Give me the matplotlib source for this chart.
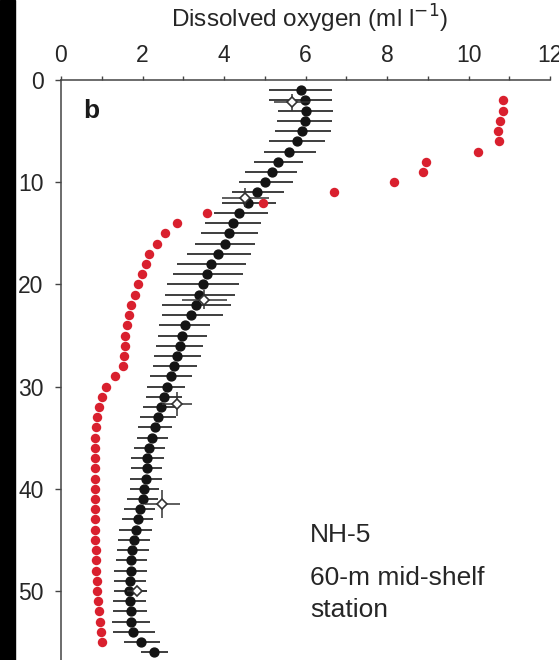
import numpy as np
import matplotlib
matplotlib.use("Agg")
import matplotlib.pyplot as plt
from matplotlib.patches import Rectangle

plt.rcParams["font.family"] = ["Liberation Sans", "DejaVu Sans"]

# black profile: mean with range bars
black_depth = list(range(1, 57))
black_x = [5.88, 5.99, 6.01, 5.99, 5.91, 5.80, 5.60, 5.33, 5.17, 5.01,
           4.80, 4.60, 4.38, 4.22, 4.12, 4.03, 3.86, 3.69, 3.58, 3.49,
           3.39, 3.31, 3.18, 3.05, 2.96, 2.91, 2.85, 2.78, 2.70, 2.59,
           2.53, 2.45, 2.39, 2.31, 2.24, 2.16, 2.12, 2.11, 2.08, 2.04,
           2.00, 1.94, 1.88, 1.83, 1.78, 1.75, 1.73, 1.71, 1.69, 1.68,
           1.69, 1.71, 1.71, 1.77, 1.96, 2.28]
black_lo = [5.11, 5.11, 5.33, 5.31, 5.25, 5.11, 4.98, 4.74, 4.52, 4.38,
            4.19, 3.94, 3.75, 3.53, 3.43, 3.29, 3.08, 2.85, 2.74, 2.59,
            2.54, 2.47, 2.47, 2.41, 2.39, 2.33, 2.29, 2.25, 2.18, 2.12,
            2.09, 2.02, 1.95, 1.90, 1.86, 1.79, 1.73, 1.73, 1.69, 1.69,
            1.63, 1.55, 1.49, 1.43, 1.39, 1.37, 1.36, 1.31, 1.31, 1.31,
            1.28, 1.28, 1.24, 1.28, 1.55, 1.96]
black_hi = [6.66, 6.66, 6.68, 6.66, 6.62, 6.48, 6.25, 5.95, 5.80, 5.69,
            5.47, 5.28, 5.07, 4.90, 4.84, 4.76, 4.66, 4.54, 4.47, 4.38,
            4.27, 4.17, 3.97, 3.66, 3.58, 3.49, 3.43, 3.33, 3.21, 3.04,
            2.96, 2.82, 2.82, 2.72, 2.63, 2.55, 2.53, 2.49, 2.47, 2.41,
            2.39, 2.31, 2.25, 2.23, 2.18, 2.17, 2.12, 2.12, 2.09, 2.12,
            2.09, 2.12, 2.18, 2.31, 2.43, 2.62]

# red profile
red_depth = list(range(2, 56))
red_x = [10.84, 10.84, 10.77, 10.72, 10.75, 10.24, 8.95, 8.88, 8.18, 6.70,
         4.96, 3.59, 2.84, 2.56, 2.36, 2.17, 2.08, 1.99, 1.90, 1.82,
         1.72, 1.66, 1.61, 1.58, 1.57, 1.55, 1.51, 1.33, 1.10, 1.00,
         0.93, 0.88, 0.86, 0.84, 0.84, 0.84, 0.84, 0.84, 0.84, 0.84,
         0.84, 0.84, 0.84, 0.84, 0.85, 0.86, 0.87, 0.88, 0.89, 0.91,
         0.93, 0.96, 0.97, 1.00]

# open diamonds with x and depth error
dia_depth = [2.2, 11.5, 21.5, 31.7, 41.5, 50.0]
dia_x = [5.66, 4.52, 3.52, 2.85, 2.49, 1.86]
dia_xerr = [0.44, 0.58, 0.55, 0.37, 0.44, 0.25]
dia_yerr = [0.87, 0.9, 0.95, 1.15, 1.4, 0.3]

W, H = 559, 660
fig = plt.figure(figsize=(W / 100, H / 100), dpi=100)
fig.patches.append(Rectangle((0, 0), 15 / W, 1, transform=fig.transFigure,
                             color="black", zorder=0))

ax = fig.add_axes([61 / W, 0, (550 - 61) / W, (660 - 80) / H])
txt = "#262626"

bx = np.array(black_x)
xerr = [bx - np.array(black_lo), np.array(black_hi) - bx]
ax.errorbar(black_x, black_depth, xerr=xerr, fmt="o", color="#141414",
            ms=6.4, ecolor="#1e1e1e", elinewidth=1.2, capsize=0, zorder=2)
ax.errorbar(dia_x, dia_depth, xerr=dia_xerr, yerr=dia_yerr, fmt="D",
            ms=5.2, mfc="white", mec="#333333", mew=1.2, ecolor="#333333",
            elinewidth=1.1, capsize=0, zorder=3)
ax.plot(red_x, red_depth, "o", color="#d9202e", ms=6.8, mec="none", zorder=4)

ax.set_xlim(0, 12)
ax.set_ylim(56.75, 0)
ax.xaxis.tick_top()
ax.set_xticks(range(0, 13, 2))
ax.set_xticks(range(1, 13, 2), minor=True)
ax.set_yticks(range(0, 51, 10))
for s in ["right", "bottom"]:
    ax.spines[s].set_visible(False)
for s in ["left", "top"]:
    ax.spines[s].set_color("#444444")
    ax.spines[s].set_linewidth(1.1)
ax.tick_params(axis="x", which="major", direction="out", length=3, width=1,
               color="#444444", labelsize=16.5, labelcolor=txt, pad=6.5)
ax.tick_params(axis="x", which="minor", direction="out", length=3, width=1,
               color="#444444")
ax.tick_params(axis="y", direction="out", length=4, width=1,
               color="#444444", labelsize=16.5, labelcolor=txt, pad=8.5)

fig.text(310 / W, 1 - 28 / H, "Dissolved oxygen (ml l$^{-1}$)", ha="center",
         va="baseline", fontsize=17.5, color=txt)
ax.text(83 / W, 1 - 118 / H, "b", transform=fig.transFigure, fontsize=19,
        fontweight="bold", color="#1a1a1a", va="baseline")
fig.text(310 / W, 1 - 541.7 / H, "NH-5", fontsize=19, color=txt, va="baseline")
fig.text(310 / W, 1 - 585 / H, "60-m mid-shelf", fontsize=19, color=txt,
         va="baseline")
fig.text(310 / W, 1 - 616.7 / H, "station", fontsize=19, color=txt,
         va="baseline")

fig.savefig("out.png", dpi=100, facecolor="white")
